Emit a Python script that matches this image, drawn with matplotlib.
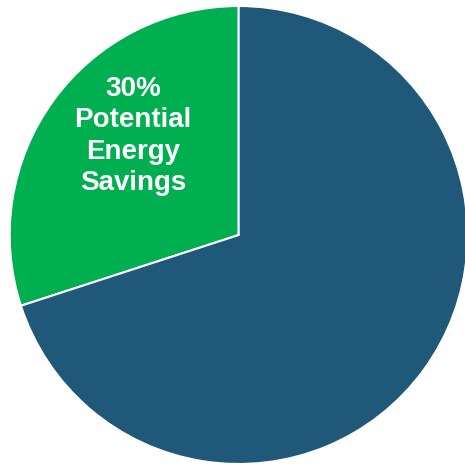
import matplotlib
matplotlib.use("Agg")
import matplotlib.pyplot as plt

categories = ["Potential Energy Savings", "Remaining"]
shares = [30, 70]
colors = ["#00AF50", "#1F5878"]
label_lines = ["30%", "Potential", "Energy", "Savings"]

W, H = 465, 468
fig = plt.figure(figsize=(W / 100, H / 100), dpi=100)
cx, cy, r = 238.7, 235.0, 229.0  # pixel geometry (from top-left)
ax = fig.add_axes([(cx - r) / W, (H - cy - r) / H, 2 * r / W, 2 * r / H])
ax.pie(shares, colors=colors, startangle=90, counterclock=True,
       wedgeprops=dict(edgecolor="white", linewidth=1.5))
ax.set_xlim(-1, 1)
ax.set_ylim(-1, 1)
ax.set_aspect("auto")
ax.axis("off")

ax.text(-0.462, 0.432, "\n".join(label_lines), ha="center", va="center",
        color="white", fontsize=20, fontweight="bold",
        family="Liberation Sans", linespacing=1.28)

fig.savefig("out.png", dpi=100, facecolor="white")
